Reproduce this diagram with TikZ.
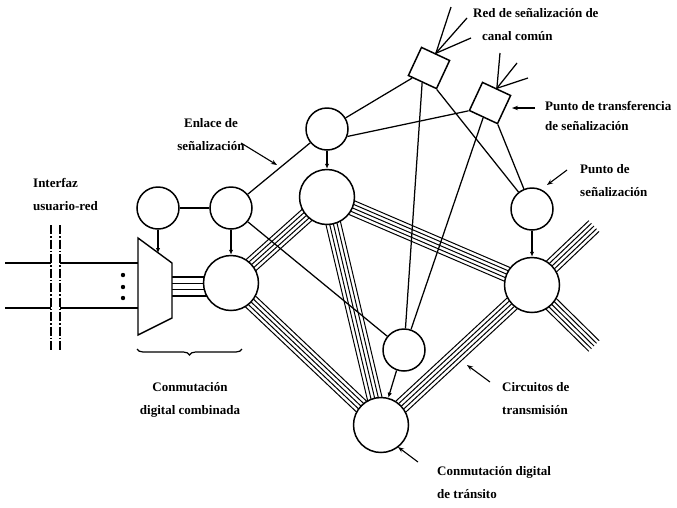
\documentclass[tikz,border=0pt]{standalone}
\usepackage{fontspec}
\setmainfont{Liberation Serif}
\usetikzlibrary{calc,arrows.meta,decorations.pathreplacing,backgrounds}
\newcommand{\mytrunk}[2]{%
  \foreach \o in {-7.4,-3.7,0,3.7,7.4}{%
    \draw[trunkln] ($(#1)!\o pt!90:(#2)$) -- ($(#2)!\o pt!-90:(#1)$);%
  }}
\tikzset{
  sig/.style={circle, draw, fill=white, line width=1.5pt, minimum size=42pt, inner sep=0pt},
  sw/.style={circle, draw, fill=white, line width=1.5pt, minimum size=55pt, inner sep=0pt},
  stp/.style={rectangle, draw, fill=white, line width=1.5pt, minimum size=31pt, inner sep=0pt, rotate=-25},
  link/.style={line width=1.25pt},
  trunkln/.style={line width=1pt},
  ctrl/.style={line width=1.25pt, -{Latex[length=5pt,width=4.5pt]}},
  larrow/.style={line width=1.1pt, -{Stealth[length=6pt,width=4.5pt]}},
  lbl/.style={font=\bfseries\fontsize{13}{23}\selectfont, inner sep=0pt, align=left},
  bar/.style={line width=1.3pt, dash pattern=on 9pt off 2pt on 1.5pt off 2pt},
}
\begin{document}
\begin{tikzpicture}[x=1pt,y=-1pt]
\useasboundingbox (0,0) rectangle (677,507);

% signaling points and switches
\node[sig] (sp1) at (158,208) {};
\node[sig] (sp2) at (231,208) {};
\node[sig] (sp3) at (327,129) {};
\node[sig] (sp4) at (404,350) {};
\node[sig] (sp5) at (532,209) {};
\node[sw] (swA) at (231,283) {};
\node[sw] (swC) at (327,197) {};
\node[sw] (swB) at (381,425) {};
\node[sw] (swD) at (532,285) {};
\node[stp] (stp1) at (429,68) {};
\node[stp] (stp2) at (490,103) {};

% trapezoid (concentrator)
\coordinate (tz1) at (138,238);
\coordinate (tz2) at (172,263);
\coordinate (tz3) at (172,318);
\coordinate (tz4) at (138,335);
\coordinate (tzin) at (158,253);
\draw[link, line width=1.4pt, fill=white] (tz1) -- (tz2) -- (tz3) -- (tz4) -- cycle;

\coordinate (dUp) at (594,226);
\coordinate (dDn) at (594,346);

\begin{pgfonlayer}{background}
  \fill[white] (0,0) rectangle (677,507);
  \mytrunk{swA}{swC}
  \mytrunk{swA}{swB}
  \mytrunk{swC}{swB}
  \mytrunk{swC}{swD}
  \mytrunk{swD}{swB}
  \mytrunk{swD}{dUp}
  \mytrunk{swD}{dDn}
  \foreach \f in {0.255,0.369,0.485,0.6}{
    \path ($(tz2)!\f!(tz3)$) coordinate (tmp);
    \draw[trunkln, line width=1.2pt] (tmp) -- (tmp -| swA);
  }
\end{pgfonlayer}

% user lines and interface
\coordinate (uT) at (5,263);
\coordinate (uB) at (5,308);
\coordinate (b1t) at (51,225);
\coordinate (b1b) at (51,350);
\coordinate (b2t) at (60,225);
\coordinate (b2b) at (60,350);
\draw[bar] (b1t) -- (b1b);
\draw[bar] (b2t) -- (b2b);
\draw[link, line width=1.6pt] (uT) -- (uT -| b1t);
\draw[link, line width=1.6pt] (uB) -- (uB -| b1t);
\draw[link, line width=1.6pt] (uT -| b2t) -- (uT -| tz1);
\draw[link, line width=1.6pt] (uB -| b2t) -- (uB -| tz1);
\foreach \yy in {275,287,298} \fill (123,\yy) circle (2.2);

% signaling links
\draw[link] (sp1) -- (sp2);
\draw[link] (sp2) -- (sp3);
\draw[link] (sp2) -- (sp4);
\draw[link] (sp3) -- (stp1);
\draw[link] (sp3.-20) -- (stp2.south west);
\draw[link] (stp1.south) -- (sp4);
\draw[link] (stp1.south east) -- (sp5);
\draw[link] (stp2.south) -- (sp4);
\draw[link] (stp2.south east) -- (sp5);

% common channel network fans
\coordinate (f1a) at (451,7);
\coordinate (f1b) at (467,18);
\coordinate (f1c) at (471,38);
\coordinate (f2a) at (500,53);
\coordinate (f2b) at (517,63);
\coordinate (f2c) at (528,78);
\foreach \p in {f1a,f1b,f1c} \draw[link] (stp1.north) -- (\p);
\foreach \p in {f2a,f2b,f2c} \draw[link] (stp2.north) -- (\p);

% control arrows
\draw[ctrl] (sp1) -- (tzin);
\draw[ctrl] (sp2) -- (swA);
\draw[ctrl] (sp3) -- (swC);
\draw[ctrl] (sp5) -- (swD);
\draw[ctrl] (sp4.250) -- (swB.75);

% brace
\coordinate (br1) at (137,349);
\coordinate (br2) at (242,349);
\draw[decorate, decoration={brace, mirror, amplitude=6pt}, line width=1.2pt] (br1) -- (br2);

% labels
\node[lbl, anchor=north west] (lRed) at (473,8) {Red de señalización de\\\hspace*{9pt}canal común};
\node[lbl, anchor=north west, font=\bfseries\fontsize{13}{20}\selectfont] (lPTS) at (545,101) {Punto de transferencia\\de señalización};
\node[lbl, anchor=north west] (lPS) at (580,164) {Punto de\\señalización};
\node[lbl, anchor=north, align=center] (lEnl) at (211,118) {Enlace de\\señalización};
\node[lbl, anchor=north west] (lInt) at (33,178) {Interfaz\\usuario-red};
\node[lbl, anchor=north, align=center] (lCDC) at (190,382) {Conmutación\\digital combinada};
\node[lbl, anchor=north west] (lCirc) at (502,382) {Circuitos de\\transmisión};
\node[lbl, anchor=north west] (lCDT) at (437,466) {Conmutación digital\\de tránsito};

% label arrows
\coordinate (aE1) at (241,143); \coordinate (aE2) at (277,165);
\coordinate (aT1) at (535,108); \coordinate (aT2) at (512,108);
\coordinate (aP1) at (567,170); \coordinate (aP2) at (547,185);
\coordinate (aC1) at (490,382); \coordinate (aC2) at (467,365);
\coordinate (aD1) at (418,462); \coordinate (aD2) at (398,447);
\draw[larrow] (aE1) -- (aE2);
\draw[larrow] (aT1) -- (aT2);
\draw[larrow] (aP1) -- (aP2);
\draw[larrow] (aC1) -- (aC2);
\draw[larrow] (aD1) -- (aD2);
\end{tikzpicture}
\end{document}
